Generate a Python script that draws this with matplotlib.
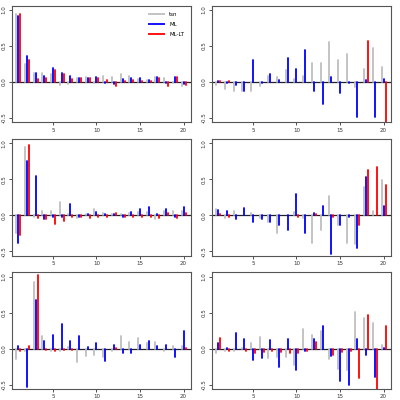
import numpy as np
import matplotlib
matplotlib.use("Agg")
import matplotlib.pyplot as plt

lags = np.arange(1, 21)

# panel 1 (top left)
p1_tsn = [0.95, 0.25, 0.12, 0.13, 0.11, -0.04, -0.03, 0.05, 0.07, -0.02,
          0.08, 0.065, 0.11, 0.08, 0.04, 0.03, 0.07, 0.055, -0.02, -0.055]
p1_ml = [0.91, 0.36, 0.13, 0.08, 0.20, 0.12, 0.08, 0.06, 0.06, 0.065,
         -0.02, -0.03, 0.045, 0.055, 0.05, 0.03, 0.065, -0.02, 0.07, -0.03]
p1_mllt = [0.94, 0.31, 0.04, 0.06, 0.17, 0.11, 0.04, 0.06, 0.06, 0.05,
           0.025, -0.05, 0.02, 0.03, 0.02, 0.02, 0.055, -0.05, 0.065, -0.04]

# panel 2 (top right)
p2_tsn = [-0.045, -0.10, -0.13, -0.12, -0.12, -0.055, 0.08, 0.065, 0.16, 0.04,
          0.08, 0.26, 0.26, 0.55, 0.31, 0.39, -0.075, 0.185, 0.47, 0.21]
p2_ml = [0.01, -0.01, -0.045, -0.13, 0.30, -0.02, 0.11, 0.03, 0.34, 0.18,
         0.44, -0.13, -0.30, 0.075, -0.15, -0.02, -0.49, 0.025, -0.48, 0.045]
p2_mllt = [0.01, 0.01, 0.0, 0.0, 0.0, 0.0, 0.0, 0.0, 0.0, 0.0,
           0.0, 0.0, 0.0, 0.0, 0.0, 0.0, 0.0, 0.57, 0.0, -0.62]

# panel 3 (middle left)
p3_tsn = [-0.25, 0.95, -0.03, 0.065, 0.065, 0.185, 0.02, -0.04, 0.02, 0.09,
          0.035, 0.02, 0.02, 0.035, 0.045, 0.045, -0.055, 0.065, 0.065, 0.055]
p3_ml = [-0.38, 0.75, 0.54, -0.045, -0.02, -0.02, 0.16, -0.03, 0.02, 0.045,
         0.02, 0.015, -0.02, 0.045, 0.085, 0.11, 0.02, 0.085, -0.02, 0.12]
p3_mllt = [-0.27, 0.97, -0.04, -0.055, -0.12, -0.075, -0.03, -0.03, -0.035, -0.03,
           -0.02, 0.035, -0.02, -0.02, -0.02, -0.02, -0.035, 0.03, -0.04, 0.025]

# panel 4 (middle right)
p4_tsn = [0.085, -0.04, 0.055, 0.0, 0.03, -0.04, -0.09, -0.24, 0.0, 0.045,
          -0.035, -0.38, -0.21, 0.27, -0.14, -0.38, -0.40, 0.39, 0.055, 0.49]
p4_ml = [0.08, 0.065, -0.045, 0.095, -0.09, -0.045, -0.10, -0.14, -0.21, 0.29,
         -0.24, 0.03, 0.13, -0.54, -0.13, -0.03, -0.45, 0.53, 0.0, 0.13]
p4_mllt = [0.015, -0.02, 0.0, 0.01, 0.0, 0.0, 0.0, 0.0, 0.0, -0.03,
           0.0, 0.02, 0.0, -0.03, 0.0, 0.0, -0.13, 0.63, 0.67, 0.42]

# panel 5 (bottom left)
p5_tsn = [-0.14, -0.03, 0.93, 0.175, -0.03, -0.03, 0.02, -0.18, -0.10, -0.085,
          -0.11, -0.03, 0.175, 0.09, 0.15, 0.075, 0.09, -0.04, 0.03, 0.035]
p5_ml = [0.035, -0.53, 0.67, 0.11, 0.185, 0.335, 0.11, 0.175, 0.02, 0.075,
         -0.175, 0.05, -0.055, -0.055, 0.055, 0.11, 0.04, 0.05, -0.11, 0.24]
p5_mllt = [-0.04, 0.03, 1.02, -0.02, -0.03, -0.02, -0.02, -0.01, -0.01, 0.0,
           0.0, 0.01, 0.0, 0.0, 0.0, 0.0, -0.01, 0.0, -0.01, 0.01]

# panel 6 (bottom right)
p6_tsn = [-0.065, -0.04, -0.03, 0.01, 0.075, 0.165, -0.13, -0.11, -0.12, -0.23,
          0.27, 0.185, 0.25, -0.14, -0.28, -0.30, 0.51, 0.425, 0.35, 0.045]
p6_ml = [0.075, 0.01, 0.21, 0.14, -0.165, -0.13, 0.12, -0.26, 0.13, -0.30,
         -0.035, 0.13, 0.31, -0.10, -0.455, -0.51, 0.13, -0.09, -0.39, 0.01]
p6_mllt = [0.15, -0.04, -0.01, -0.03, -0.065, -0.045, -0.03, -0.045, -0.055, -0.065,
           -0.03, 0.09, -0.01, -0.085, -0.045, -0.04, -0.415, 0.46, -0.60, 0.315]

panels = [
    (p1_tsn, p1_ml, p1_mllt),
    (p2_tsn, p2_ml, p2_mllt),
    (p3_tsn, p3_ml, p3_mllt),
    (p4_tsn, p4_ml, p4_mllt),
    (p5_tsn, p5_ml, p5_mllt),
    (p6_tsn, p6_ml, p6_mllt),
]

series_names = ["tsn", "ML", "ML-LT"]
series_colors = ["#bebebe", "#0000ff", "#ff0000"]
offsets = [-0.23, 0.0, 0.23]

fig = plt.figure(figsize=(4, 4), dpi=100)

W, H = 400.0, 400.0
col_left = [12, 212]
ax_w = 179
ax_h = 116.6
row_top = [5.7, 139.0, 272.3]

for k, series in enumerate(panels):
    r, c = divmod(k, 2)
    ax = fig.add_axes([col_left[c] / W, 1 - (row_top[r] + ax_h) / H, ax_w / W, ax_h / H])
    for vals, col, off, name in zip(series, series_colors, offsets, series_names):
        ax.vlines(lags + off, 0, vals, colors=col, linewidth=1.3,
                  capstyle="round", label=name)
    ax.axhline(0, color="#222222", linewidth=0.9, zorder=0)
    ax.set_xlim(0.3, 20.85)
    ax.set_ylim(-0.56, 1.06)
    ax.set_xticks([5, 10, 15, 20])
    ax.set_yticks([-0.5, 0.0, 0.5, 1.0])
    ax.set_yticklabels(["-0.5", "0.0", "0.5", "1.0"], rotation=90, va="center")
    ax.tick_params(labelsize=4, length=2.5, width=0.6, pad=1.5, colors="#333333")
    for sp in ax.spines.values():
        sp.set_color("#555555")
        sp.set_linewidth(0.8)
    if k == 0:
        leg = ax.legend(loc="upper right", fontsize=4, frameon=False,
                        handlelength=3, borderaxespad=0.8, labelspacing=0.9)

fig.savefig("out.png", dpi=100)
